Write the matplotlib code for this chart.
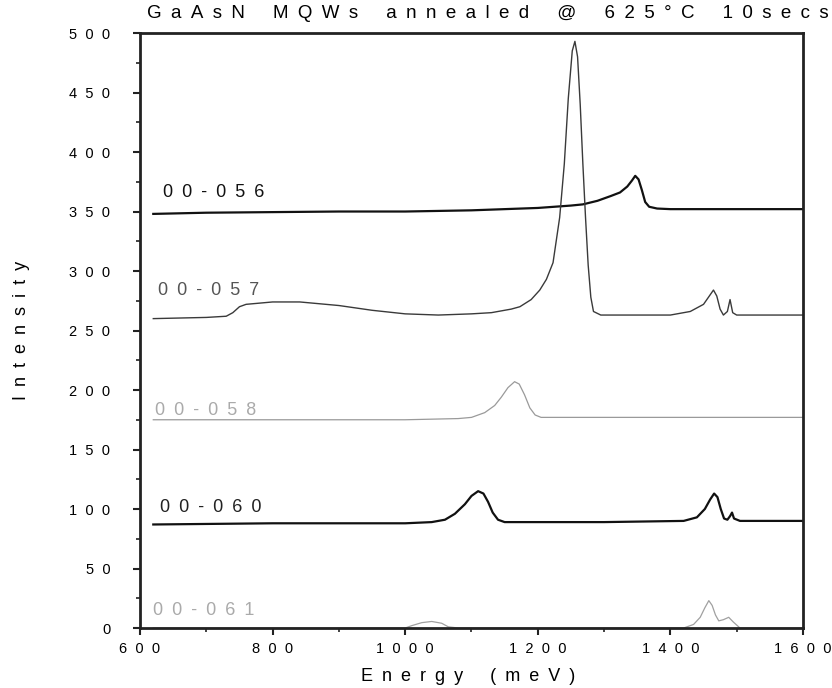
import matplotlib
matplotlib.use("Agg")
import matplotlib.pyplot as plt
from matplotlib.ticker import MultipleLocator, FuncFormatter

plt.rcParams["font.family"] = ["Liberation Sans", "DejaVu Sans"]

# PL spectra (energy in meV, intensity offset per sample)
e_056 = [620, 700, 800, 900, 1000, 1100, 1150, 1200, 1250, 1268, 1290, 1310, 1324, 1335, 1342, 1347, 1352, 1357, 1362, 1368, 1380, 1400, 1500, 1600]
i_056 = [348, 349, 349.5, 350, 350, 351, 352, 353, 355, 356, 359, 363, 366, 371, 376, 380, 377, 368, 358, 354, 352.5, 352, 352, 352]

e_057 = [620, 700, 730, 740, 750, 760, 800, 841, 900, 950, 1000, 1050, 1100, 1130, 1160, 1173, 1190, 1203, 1213, 1223, 1233, 1240, 1246, 1252, 1256, 1260, 1264, 1268, 1272, 1276, 1280, 1284, 1295, 1400, 1430, 1450, 1460, 1465, 1470, 1475, 1480, 1486, 1490, 1494, 1500, 1600]
i_057 = [260, 261, 262, 265, 270, 272, 274, 274, 271, 267, 264, 263, 264, 265, 268, 270, 276, 284, 293, 307, 345, 390, 445, 485, 493, 480, 440, 390, 345, 305, 278, 266, 263, 263, 266, 272, 280, 284, 279, 268, 263, 266, 276, 265, 263, 263]

e_058 = [620, 800, 1000, 1080, 1100, 1120, 1135, 1145, 1155, 1165, 1172, 1180, 1188, 1196, 1205, 1300, 1600]
i_058 = [175, 175, 175, 176, 177, 181, 187, 194, 202, 207, 205, 196, 185, 179, 177, 177, 177]

e_060 = [620, 800, 1000, 1040, 1060, 1075, 1090, 1100, 1110, 1118, 1125, 1132, 1140, 1150, 1300, 1420, 1440, 1452, 1460, 1466, 1471, 1476, 1481, 1486, 1490, 1493, 1496, 1505, 1600]
i_060 = [87, 88, 88, 89, 91, 96, 104, 111, 115, 113, 106, 97, 91, 89, 89, 90, 93, 100, 108, 113, 110, 100, 92, 91, 94, 97, 92, 90, 90]

e_061 = [620, 1000, 1010, 1025, 1040, 1055, 1065, 1080, 1420, 1435, 1445, 1452, 1458, 1463, 1468, 1473, 1480, 1488, 1495, 1505, 1600]
i_061 = [0, 0, 2, 4.5, 5.5, 4, 1, 0, 0, 3, 9, 17, 23, 19, 11, 6, 7, 9, 5, 0, 0]

samples = ["00-056", "00-057", "00-058", "00-060", "00-061"]

EN = "\u2002"


def spaced(s, gap=EN):
    return gap.join(s)


fig = plt.figure(figsize=(8.32, 6.88), dpi=100)
ax = fig.add_axes([0.1683, 0.0872, 0.7968, 0.8648])

ax.plot(e_056, i_056, color="#111111", lw=1.6)
ax.plot(e_057, i_057, color="#3a3a3a", lw=1.0)
ax.plot(e_058, i_058, color="#9a9a9a", lw=0.9)
ax.plot(e_060, i_060, color="#111111", lw=1.6)
ax.plot(e_061, i_061, color="#a0a0a0", lw=0.9, clip_on=False)

# sample names sit just above each baseline
label_pos = [(635, 366, "#111111"), (627, 284, "#555555"), (623, 183, "#aaaaaa"), (630, 101, "#222222"), (620, 15, "#aaaaaa")]
for name, (x, y, c) in zip(samples, label_pos):
    ax.text(x, y, spaced(name), fontsize=13, color=c, va="center", ha="left")

ax.set_xlim(600, 1600)
ax.set_ylim(0, 500)
ax.xaxis.set_major_locator(MultipleLocator(200))
ax.xaxis.set_minor_locator(MultipleLocator(100))
ax.yaxis.set_major_locator(MultipleLocator(50))
ax.yaxis.set_minor_locator(MultipleLocator(25))
fmt = FuncFormatter(lambda v, p: spaced(str(int(round(v))), "  "))
ax.xaxis.set_major_formatter(fmt)
ax.yaxis.set_major_formatter(fmt)
ax.tick_params(axis="both", which="major", direction="out", length=5, width=1.5, labelsize=10.5, color="#222222")
ax.tick_params(axis="both", which="minor", direction="out", length=3, width=1.2, color="#222222")
ax.tick_params(axis="x", pad=5)
ax.tick_params(axis="y", pad=16.5)
for s in ax.spines.values():
    s.set_color("#222222")
    s.set_linewidth(2)

fig.text(0.563, 0.0174, spaced("Energy") + EN * 3 + spaced("(meV)"), fontsize=13, ha="center", va="center")
fig.text(0.026, 0.52, spaced("Intensity"), fontsize=13, rotation=90, ha="center", va="center")

words = [spaced("GaAsN"), spaced("MQWs"), spaced("annealed"), "@", spaced("625°C"), spaced("10secs")]
title = (EN * 3).join(words)
fig.text(0.996, 0.981, title, fontsize=13.5, ha="right", va="center")

fig.savefig("out.png", dpi=100, facecolor="white")
